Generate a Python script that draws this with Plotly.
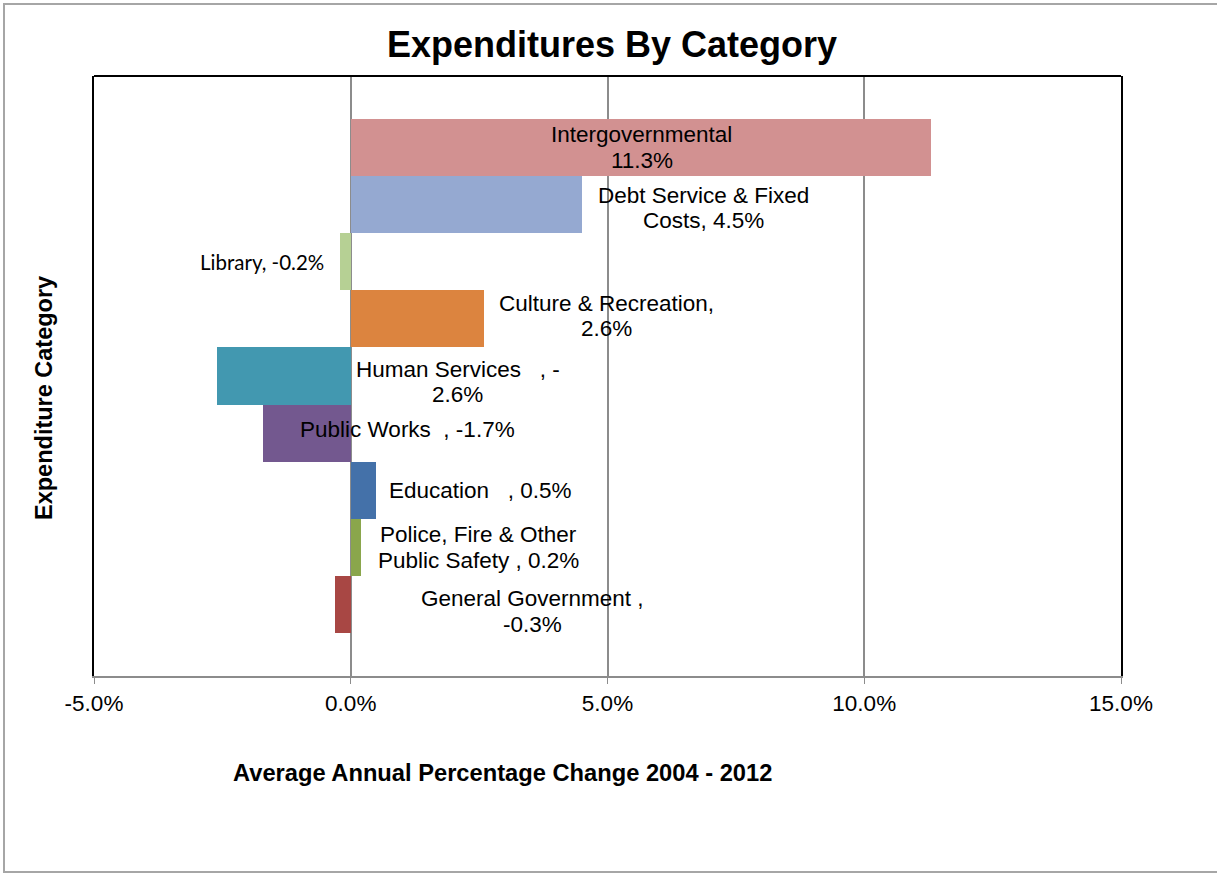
import plotly.graph_objects as go

# Data (bottom to top, Excel series order)
categories = [
    "General Government",
    "Police, Fire & Other Public Safety",
    "Education",
    "Public Works",
    "Human Services",
    "Culture & Recreation",
    "Library",
    "Debt Service & Fixed Costs",
    "Intergovernmental",
]
values = [-0.3, 0.2, 0.5, -1.7, -2.6, 2.6, -0.2, 4.5, 11.3]
label_texts = [
    "General Government ,<br>-0.3%",
    "Police, Fire & Other<br>Public Safety , 0.2%",
    "Education   , 0.5%",
    "Public Works  , -1.7%",
    "Human Services   , -<br>2.6%",
    "Culture & Recreation,<br>2.6%",
    "Library, -0.2%",
    "Debt Service & Fixed<br>Costs, 4.5%",
    "Intergovernmental<br>11.3%",
]
x_ticks = [-5, 0, 5, 10, 15]
x_tick_labels = ["-5.0%", "0.0%", "5.0%", "10.0%", "15.0%"]

# Styling / label placement (not data)
colors = ["#A84744", "#8AA64C", "#4471A9", "#73588F", "#4298B0",
          "#DC843F", "#B6D094", "#95A9D1", "#D29191"]
label_x = [3.53, 2.48, 2.53, 1.11, 2.08, 4.99, -1.73, 6.86, 5.67]
label_yshift = [-7, 0, 0, 3.5, -6, 3, 0, -3.5, 0]
LINE_H = 25.5

W, H = 1217, 873
ML, MR, MT, MB = 94, 96, 76, 197
PW, PH = W - ML - MR, H - MT - MB


def px_x(px):
    return (px - ML) / PW


def px_y(py):
    return (H - MB - py) / PH


fig = go.Figure()
fig.add_trace(go.Bar(
    y=categories, x=values, orientation="h",
    marker=dict(color=colors, line=dict(width=0)),
    width=1.0, showlegend=False, hoverinfo="x+y",
))

for i, (cat, txt) in enumerate(zip(categories, label_texts)):
    fnt = dict(family="Arial, Liberation Sans", size=22.5, color="black")
    if cat == "Library":
        fnt = dict(family="Lato, Open Sans", size=20.5, color="black")
    lines = txt.split("<br>")
    n = len(lines)
    for k, line in enumerate(lines):
        off = ((n - 1) / 2 - k) * LINE_H
        fig.add_annotation(x=label_x[i], y=cat, xref="x", yref="y", text=line,
                           showarrow=False, font=fnt, align="center",
                           xanchor="center", yanchor="middle",
                           yshift=label_yshift[i] + off)

# Titles
fig.add_annotation(text="<b>Expenditures By Category</b>", xref="paper", yref="paper",
                   x=px_x(612), y=px_y(44), showarrow=False,
                   xanchor="center", yanchor="middle",
                   font=dict(family="Arial, Liberation Sans", size=36, color="black"))
fig.add_annotation(text="<b>Average Annual Percentage Change 2004 - 2012</b>",
                   xref="paper", yref="paper",
                   x=px_x(502), y=px_y(773), showarrow=False,
                   xanchor="center", yanchor="middle",
                   font=dict(family="Arial, Liberation Sans", size=23.7, color="black"))
fig.add_annotation(text="<b>Expenditure Category</b>", xref="paper", yref="paper",
                   x=px_x(44), y=px_y(398), showarrow=False, textangle=-90,
                   xanchor="center", yanchor="middle",
                   font=dict(family="Arial, Liberation Sans", size=23.5, color="black"))

# Plot border top line (left/right come from y axis) and outer chart border
fig.add_shape(type="line", xref="paper", yref="paper", x0=0, x1=1, y0=1, y1=1,
              line=dict(color="black", width=2))
fig.add_shape(type="rect", xref="paper", yref="paper",
              x0=px_x(4), x1=px_x(1240), y0=px_y(872), y1=px_y(4),
              line=dict(color="#A6A6A6", width=2), layer="below")

fig.update_xaxes(
    range=[-5, 15], tickvals=x_ticks, ticktext=x_tick_labels,
    showgrid=True, gridcolor="#8C8C8C", gridwidth=1.5,
    zeroline=True, zerolinecolor="#8C8C8C", zerolinewidth=1.5,
    showline=True, linecolor="#8C8C8C", linewidth=2,
    ticks="outside", ticklen=6, tickcolor="#8C8C8C",
    tickfont=dict(family="Arial, Liberation Sans", size=22.5, color="black"),
    fixedrange=True,
)
fig.update_yaxes(
    type="category", categoryorder="array", categoryarray=categories,
    range=[-1.25, 9.25], showticklabels=False, ticks="",
    showgrid=False, zeroline=False,
    showline=True, linecolor="black", linewidth=2, mirror=True,
    fixedrange=True,
)

fig.update_layout(
    width=W, height=H,
    margin=dict(l=ML, r=MR, t=MT, b=MB),
    plot_bgcolor="white", paper_bgcolor="white",
    bargap=0,
)

fig.write_html("out.html", config={"displayModeBar": False},
               post_script="document.body.style.margin='0';document.body.style.overflow='hidden';")
